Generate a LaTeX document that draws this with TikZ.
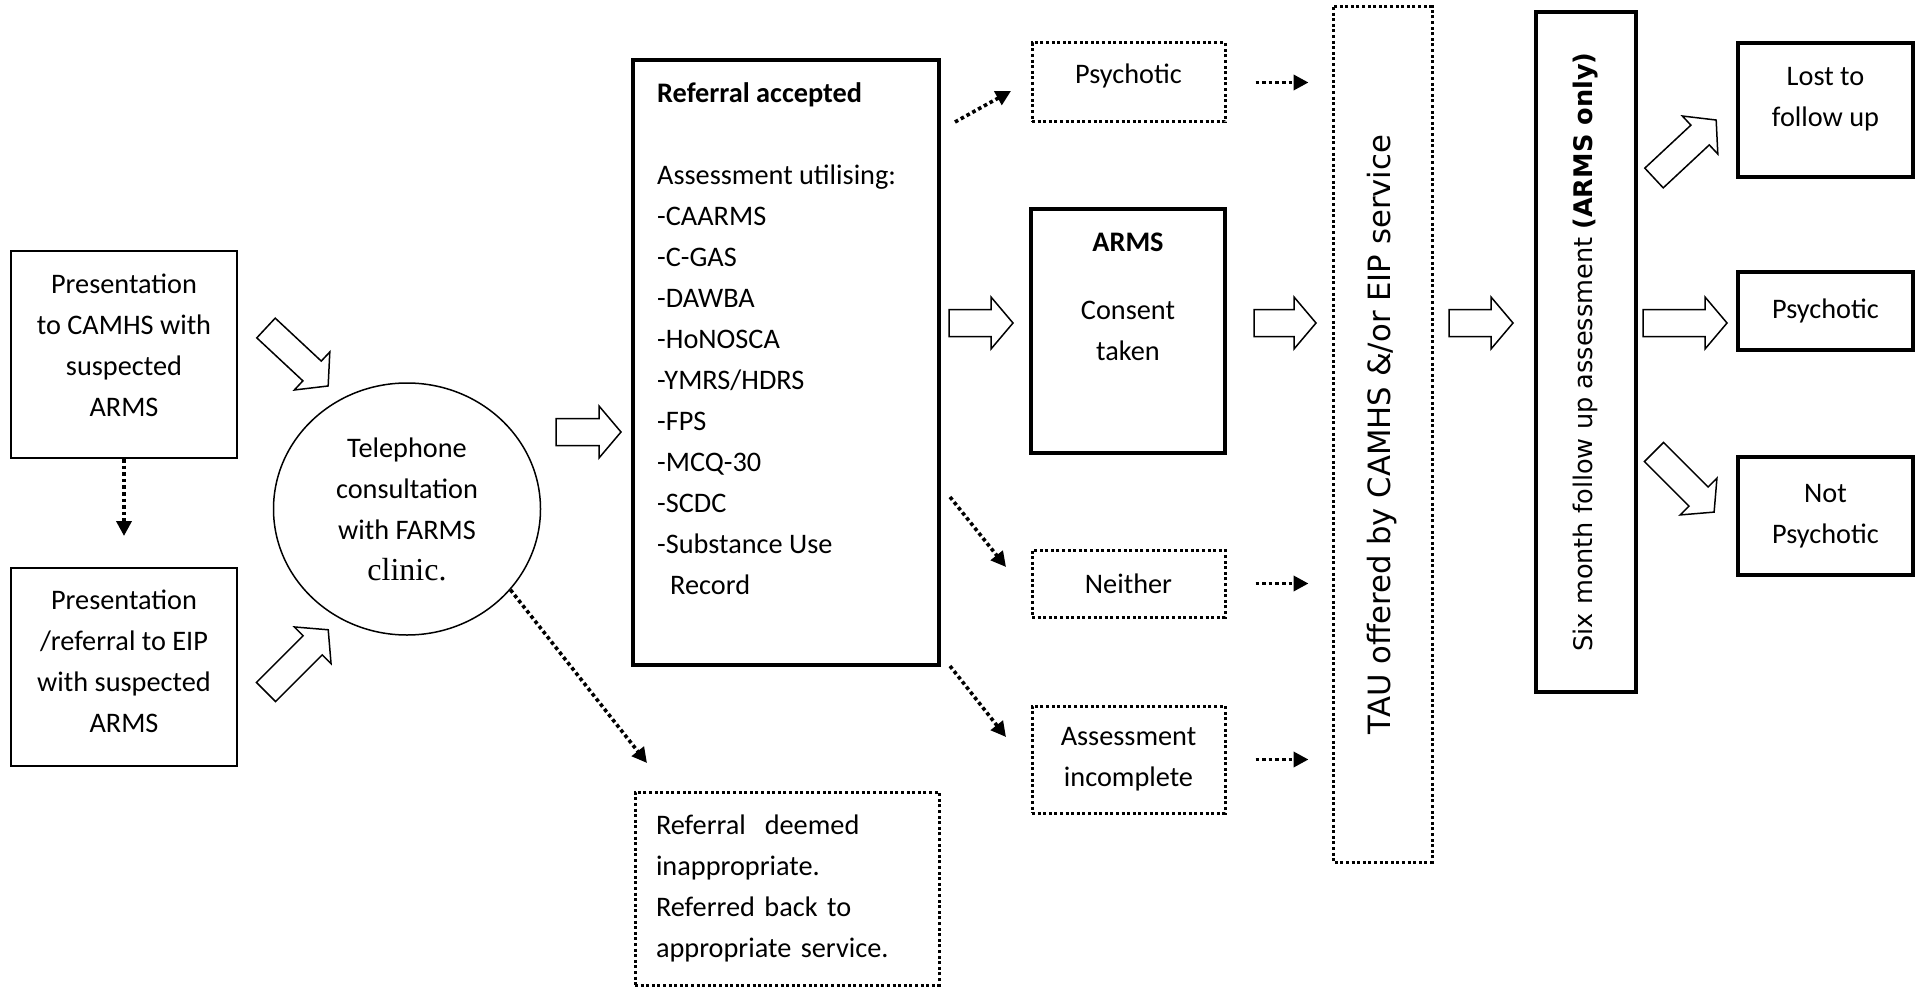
\documentclass[tikz,border=0pt]{standalone}
\usepackage{fontspec}
\setmainfont{Carlito}
\newfontfamily\serifclinic{Liberation Serif}
\newfontfamily\verasans{DejaVu Sans}
\usetikzlibrary{arrows.meta, calc, shapes.geometric}

\tikzset{
  txt/.style={font=\fontsize{28.3}{41}\selectfont, inner sep=0pt},
  thinbox/.style={txt, draw, line width=2pt, align=center},
  thickbox/.style={txt, draw, line width=4.5pt, align=center},
  dotbox/.style={txt, draw, line width=3pt, dash pattern=on 3pt off 2.6pt, align=center},
  boxtxt/.style={txt, align=center},
  dotarr/.style={line width=3.6pt, dash pattern=on 3.6pt off 3pt,
    -{Triangle[length=15pt, width=15pt]}},
  tauarr/.style={dotarr, shorten <=29pt, shorten >=23pt},
  pics/blockarr/.style={code={
    \draw[line width=1.5pt, fill=white, miter limit=20]
      (0,-13.5) -- (#1-22,-13.5) -- (#1-22,-26) -- (#1,0)
      -- (#1-22,26) -- (#1-22,13.5) -- (0,13.5) -- cycle;
  }},
}

\begin{document}
\begin{tikzpicture}[x=1pt, y=-1pt]
  \useasboundingbox (0,0) rectangle (1921,987);

  % Presentations
  \node[thinbox, minimum width=226, minimum height=207] (presCAMHS) at (124,354.5) {};
  \node[boxtxt] (presCAMHSTxt) at (124,345.5)
    {Presentation\\to CAMHS with\\suspected\\ARMS};
  \node[thinbox, minimum width=226, minimum height=198] (presEIP) at (124,667) {};
  \node[boxtxt] (presEIPTxt) at (124,661)
    {Presentation\\/referral to EIP\\with suspected\\ARMS};

  % Telephone consultation
  \node[txt, draw, ellipse, line width=1.5pt, align=center,
    minimum width=267, minimum height=252] (phone) at (407,509)
    {Telephone\\consultation\\with FARMS\\{\serifclinic\fontsize{32}{41}\selectfont clinic.}};

  % Referral accepted
  \node[thickbox, minimum width=306, minimum height=605] (refAcc) at (786,362.5) {};
  \node[txt, anchor=north west, align=left] (refTxt) at (657,82)
    {\textbf{Referral accepted}\\[41pt]Assessment utilising:\\-CAARMS\\-C-GAS\\-DAWBA\\
     -HoNOSCA\\-YMRS/HDRS\\-FPS\\-MCQ-30\\-SCDC\\-Substance Use\\\hspace*{13pt}Record};

  % Referral deemed inappropriate
  \node[dotbox, align=left, text width=262, minimum width=304, minimum height=193]
    (deemed) at (787,888.5)
    {Referral\ \ deemed\\inappropriate.\\Referred back to\\appropriate service.};

  % Outcomes of assessment
  \node[dotbox, minimum width=193, minimum height=79] (psyA) at (1128.5,82.5) {};
  \node[boxtxt] (psyATxt) at (1128.5,75.5) {Psychotic};
  \node[thickbox, minimum width=194, minimum height=244] (arms) at (1128,331) {};
  \node[txt, anchor=north, align=center] (armsTxt) at (1128,233)
    {\textbf{ARMS}\\[27pt]Consent\\taken};
  \node[dotbox, minimum width=193, minimum height=67] (neither) at (1128.5,583.5) {Neither};
  \node[dotbox, minimum width=193, minimum height=107] (incomplete) at (1128.5,759.5)
    {Assessment\\incomplete};

  % TAU and follow up
  \node[dotbox, rotate=90, minimum width=855, minimum height=99,
    font=\verasans\fontsize{30.7}{37}\selectfont] (tau) at (1382.5,434.5)
    {TAU offered by CAMHS \&/or EIP service};
  \node[thickbox, rotate=90, minimum width=680, minimum height=100,
    font=\verasans\fontsize{25.6}{30}\selectfont] (sixMonth) at (1586,352)
    {Six month follow up assessment \textbf{(ARMS only)}};

  % Follow up results
  \node[thickbox, minimum width=175, minimum height=134] (lost) at (1825.5,110) {};
  \node[boxtxt] (lostTxt) at (1825.5,99.5) {Lost to\\follow up};
  \node[thickbox, minimum width=175, minimum height=78] (psyB) at (1825.5,311) {Psychotic};
  \node[thickbox, minimum width=175, minimum height=118] (notPsy) at (1825.5,516)
    {Not\\Psychotic};

  % Block arrows
  \pic[rotate=-43] at (266,328) {blockarr=85};
  \pic[rotate=45] at (266,692) {blockarr=88};
  \pic at (556,432) {blockarr=65};
  \pic at (949,323) {blockarr=64};
  \pic at (1254,323) {blockarr=62};
  \pic at (1449,323) {blockarr=64};
  \pic[rotate=43] at (1654,178) {blockarr=85};
  \pic at (1643,323) {blockarr=84};
  \pic[rotate=-45] at (1654,452) {blockarr=85};

  % Dotted arrows
  \coordinate (deemedIn) at (647,763);
  \coordinate (refOutA) at (955,122);
  \coordinate (psyAIn) at (1011,91);
  \coordinate (refOutB) at (950,497);
  \coordinate (neitherIn) at (1006,567);
  \coordinate (refOutC) at (950,666);
  \coordinate (incIn) at (1006,737);
  \draw[dotarr, shorten >=31pt] (presCAMHS) -- (presEIP);
  \draw[dotarr] (phone.-38) -- (deemedIn);
  \draw[dotarr] (refOutA) -- (psyAIn);
  \draw[dotarr] (refOutB) -- (neitherIn);
  \draw[dotarr] (refOutC) -- (incIn);
  \draw[tauarr] (psyA.east) -- (psyA.east -| tau.north);
  \draw[tauarr] (neither.east) -- (neither.east -| tau.north);
  \draw[tauarr] (incomplete.east) -- (incomplete.east -| tau.north);
\end{tikzpicture}
\end{document}
